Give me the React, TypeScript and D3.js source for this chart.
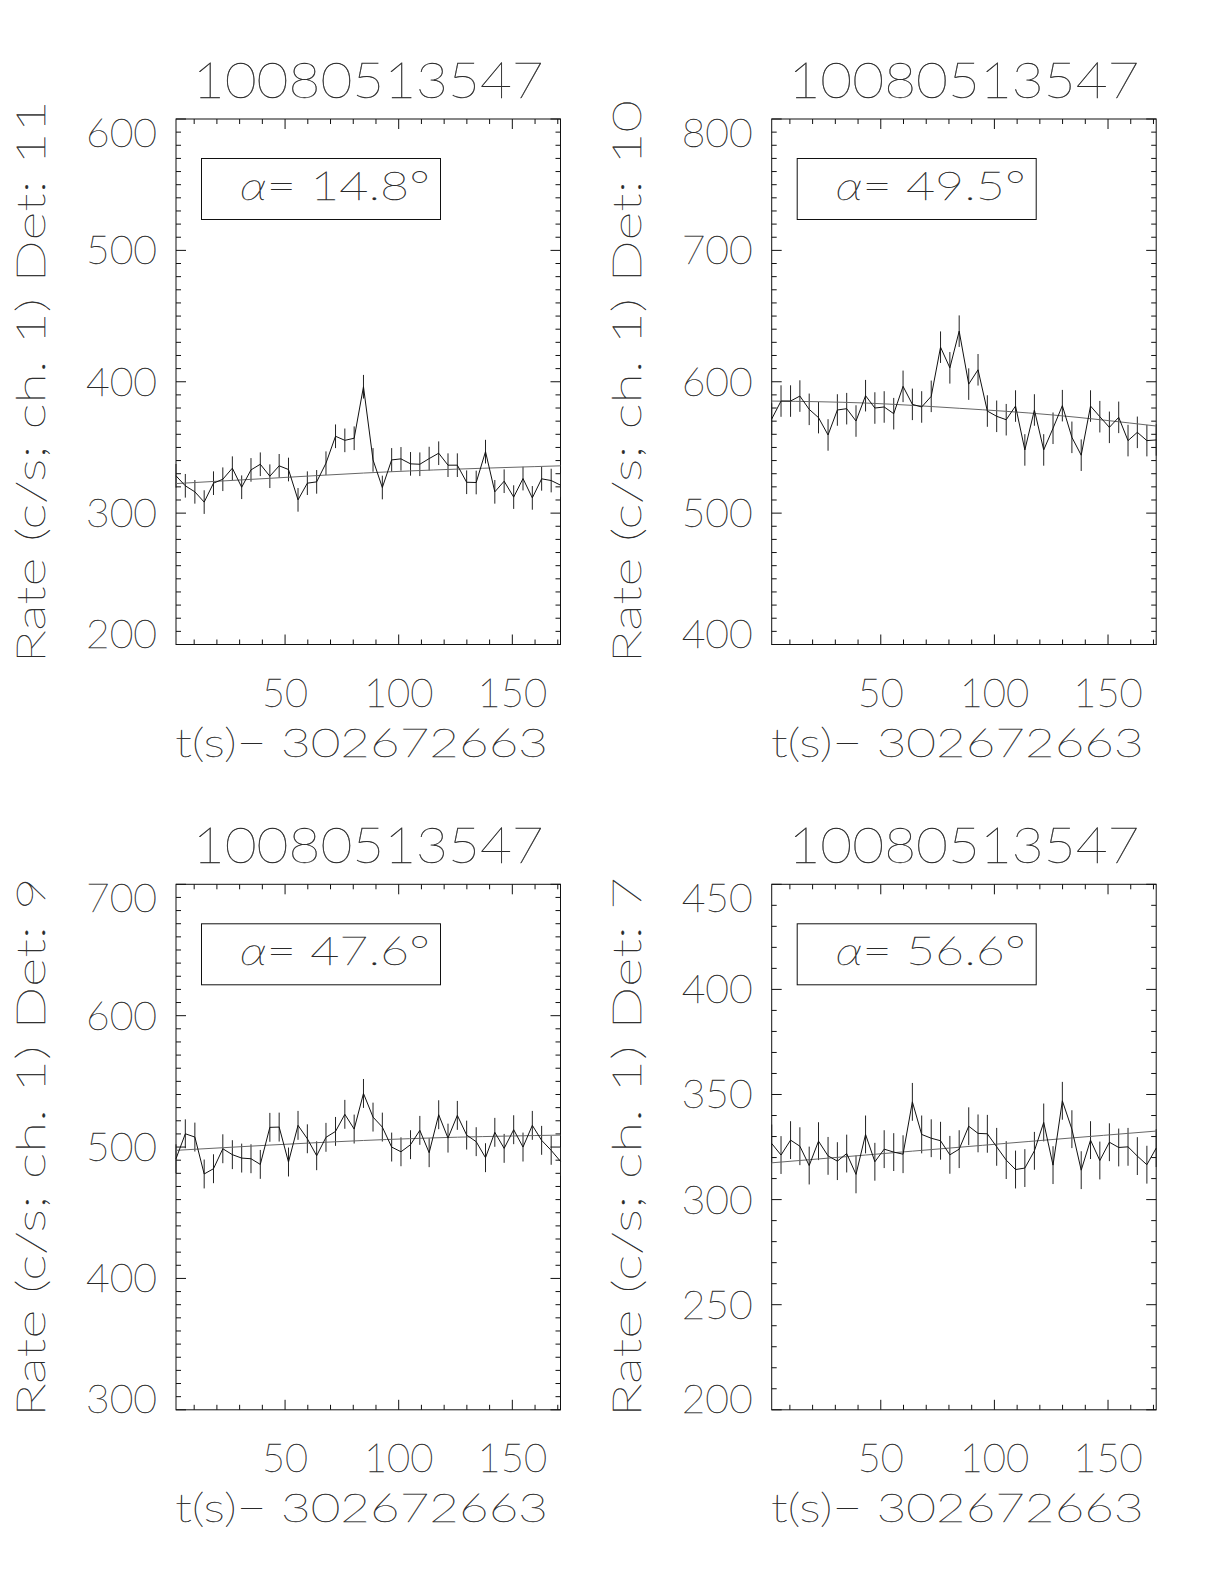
import React, { useEffect, useRef } from 'react';
import * as d3 from 'd3';

// ---------- data ----------
const burstTitle = '10080513547';
const xAxisTitle = 't(s)\u2212 302672663';
const binTimes = [2.0, 6.1, 10.3, 14.4, 18.5, 22.6, 26.8, 30.9, 35.0, 39.1, 43.3, 47.4, 51.5, 55.7, 59.8, 63.9, 68.0, 72.2, 76.3, 80.4, 84.5, 88.7, 92.8, 96.9, 101.0, 105.2, 109.3, 113.4, 117.6, 121.7, 125.8, 129.9, 134.1, 138.2, 142.3, 146.4, 150.6, 154.7, 158.8, 162.9, 167.1, 171.2];
const xDomain = [2.0, 171.2];
const xMajorTicks = [50, 100, 150];
const xMinorTicks = [10, 20, 30, 40, 60, 70, 80, 90, 110, 120, 130, 140, 160, 170];

const det11Rate = [328.4, 320.8, 316.2, 308.4, 322.8, 325.8, 334.2, 319.7, 332.9, 337.2, 328.1, 336.0, 333.2, 310.1, 322.8, 323.8, 338.0, 358.5, 355.4, 357.0, 396.2, 340.5, 319.5, 340.5, 341.3, 337.5, 337.2, 341.5, 345.6, 336.5, 336.5, 323.5, 323.3, 346.8, 316.2, 324.3, 312.2, 326.3, 311.6, 326.1, 324.8, 321.3];
const det10Rate = [571.6, 585.3, 585.3, 589.1, 579.0, 572.7, 559.5, 578.5, 579.5, 570.1, 589.4, 580.0, 580.8, 575.7, 596.5, 582.8, 580.8, 588.9, 626.3, 610.6, 638.5, 598.2, 609.1, 577.7, 573.7, 571.1, 581.5, 548.1, 578.5, 548.1, 564.6, 581.8, 557.7, 544.1, 581.5, 573.4, 565.3, 572.9, 555.2, 561.5, 555.2, 555.7];
const det9Rate = [491.1, 510.1, 507.6, 479.5, 483.5, 498.7, 494.2, 491.6, 491.1, 486.8, 515.0, 515.2, 488.6, 516.5, 506.3, 493.4, 507.4, 511.9, 524.9, 513.7, 540.8, 522.8, 515.2, 500.0, 496.4, 501.8, 512.7, 495.7, 524.6, 506.8, 524.1, 509.1, 504.1, 491.9, 511.2, 499.0, 513.2, 500.0, 516.5, 505.1, 497.5, 489.1];
const det7Rate = [326.7, 321.2, 328.3, 325.4, 316.2, 327.8, 320.8, 318.3, 321.9, 312.0, 331.0, 318.0, 324.0, 322.6, 321.6, 346.5, 331.0, 329.2, 328.0, 321.3, 324.0, 334.9, 331.5, 331.3, 325.1, 318.8, 314.3, 315.0, 323.2, 336.7, 316.4, 347.0, 333.5, 314.0, 328.3, 318.6, 327.3, 324.8, 325.1, 320.7, 316.6, 324.5];

const fitTimes = [2.0, 43.3, 84.5, 125.8, 171.2];
const det11Fit = [322.5, 326.5, 330.5, 333.5, 336.0];
const det10Fit = [585.3, 583.8, 579.8, 574.7, 566.3];
const det9Fit = [497.5, 501.5, 505.0, 507.5, 509.1];
const det7Fit = [317.5, 321.2, 324.9, 328.6, 332.6];

const errHalf = [9, 12, 11, 9];
const detNames = ['11', '10', '9', '7'];
const alphaValues = ['14.8', '49.5', '47.6', '56.6'];
const yDomains = [[200, 600], [400, 800], [300, 700], [200, 450]];
const yMajorTicks = [[200, 300, 400, 500, 600], [400, 500, 600, 700, 800], [300, 400, 500, 600, 700], [200, 250, 300, 350, 400, 450]];
const yMinorStep = [10, 10, 10, 10];
const rates = [det11Rate, det10Rate, det9Rate, det7Rate];
const fits = [det11Fit, det10Fit, det9Fit, det7Fit];

// ---------- layout ----------
const W = 1224, H = 1584;
const colLeft = [176, 771.7];
const rowTop = [119, 884.3];
const plotW = 384.5;
const plotH = 525.5;
const FONT = 'Lato, "DejaVu Sans", sans-serif';
const TXT = '#2a2a2a';

export default function App() {
  const ref = useRef<SVGSVGElement>(null);
  useEffect(() => {
    const svg = d3.select(ref.current);
    svg.selectAll('*').remove();
    svg.append('rect').attr('width', W).attr('height', H).attr('fill', '#fff');

    const styleText = (t: any, size: number) =>
      t.attr('font-family', FONT).attr('font-weight', 100)
        .attr('font-size', size).attr('fill', TXT)
        .attr('stroke', TXT).attr('stroke-width', 0.35)
        .attr('lengthAdjust', 'spacingAndGlyphs');
    const label = (g: any, s: string, size: number) => styleText(g.append('text'), size).text(s);

    for (let p = 0; p < 4; p++) {
      const left = colLeft[p % 2];
      const top = rowTop[Math.floor(p / 2)];
      const g = svg.append('g').attr('transform', `translate(${left},${top})`);
      const x = d3.scaleLinear().domain(xDomain).range([0, plotW]);
      const y = d3.scaleLinear().domain(yDomains[p]).range([plotH, 0]);
      const ink = '#111';

      // ticks
      const ticks = g.append('g').attr('stroke', ink).attr('stroke-width', 1);
      const xt = [...xMajorTicks.map(v => ({ v, L: 10 })), ...xMinorTicks.map(v => ({ v, L: 5 }))];
      xt.forEach(({ v, L }) => {
        ticks.append('line').attr('x1', x(v)).attr('x2', x(v)).attr('y1', plotH).attr('y2', plotH - L);
        ticks.append('line').attr('x1', x(v)).attr('x2', x(v)).attr('y1', 0).attr('y2', L);
      });
      const [y0, y1] = yDomains[p];
      const majors = yMajorTicks[p];
      const minors = d3.range(y0, y1 + 0.01, yMinorStep[p]).filter(v => !majors.includes(v));
      const yt = [...majors.map(v => ({ v, L: 10 })), ...minors.map(v => ({ v, L: 5 }))];
      yt.forEach(({ v, L }) => {
        ticks.append('line').attr('x1', 0).attr('x2', L).attr('y1', y(v)).attr('y2', y(v));
        ticks.append('line').attr('x1', plotW).attr('x2', plotW - L).attr('y1', y(v)).attr('y2', y(v));
      });

      // frame
      g.append('rect').attr('x', 0).attr('y', 0).attr('width', plotW).attr('height', plotH)
        .attr('fill', 'none').attr('stroke', ink).attr('stroke-width', 1);

      // error bars
      const data = binTimes.map((t, i) => ({ t, v: rates[p][i] }));
      g.append('g').attr('stroke', '#222').attr('stroke-width', 1)
        .selectAll('line').data(data).join('line')
        .attr('x1', d => x(d.t)).attr('x2', d => x(d.t))
        .attr('y1', d => y(d.v - errHalf[p])).attr('y2', d => y(d.v + errHalf[p]));

      // fit
      const fitData = fitTimes.map((t, i) => ({ t, v: fits[p][i] }));
      g.append('path').datum(fitData)
        .attr('d', d3.line<any>().x(d => x(d.t)).y(d => y(d.v)).curve(d3.curveNatural))
        .attr('fill', 'none').attr('stroke', '#666').attr('stroke-width', 1);

      // data line
      g.append('path').datum(data)
        .attr('d', d3.line<any>().x(d => x(d.t)).y(d => y(d.v)))
        .attr('fill', 'none').attr('stroke', '#111').attr('stroke-width', 1);

      // alpha box
      g.append('rect').attr('x', 25.5).attr('y', 39.5).attr('width', 239).attr('height', 61)
        .attr('fill', '#fff').attr('stroke', ink).attr('stroke-width', 1);
      const at = styleText(g.append('text'), 39).attr('x', 64).attr('y', 81).attr('textLength', 190);
      at.append('tspan').attr('font-style', 'italic').text('\u03b1');
      at.append('tspan').text(`= ${alphaValues[p]}\u00b0`);

      // title
      label(g, burstTitle, 49).attr('x', plotW / 2).attr('y', -21).attr('text-anchor', 'middle')
        .attr('textLength', 351);

      // y tick labels
      majors.forEach((v, i) => {
        let by = y(v) + 14;
        if (i === majors.length - 1) by = 28;
        if (i === 0) by = plotH + 3;
        const s = String(v);
        label(g, s, 39).attr('x', -18 - 24 * s.length).attr('y', by)
          .attr('textLength', 24 * s.length - 1);
      });

      // x tick labels
      xMajorTicks.forEach(v => {
        const s = String(v);
        label(g, s, 39).attr('x', x(v)).attr('y', plotH + 62.5).attr('text-anchor', 'middle')
          .attr('textLength', 23.5 * s.length - 1);
      });

      // x title
      label(g, xAxisTitle, 39).attr('x', -1).attr('y', plotH + 112.5).attr('textLength', 373);

      // y title
      const ytxt = `Rate (c/s; ch. 1) Det: ${detNames[p]}`;
      label(g, ytxt, 39).attr('transform', `translate(${-131},${plotH / 2}) rotate(-90)`)
        .attr('text-anchor', 'middle')
        .attr('textLength', ytxt.length === 25 ? 563 : 540);
    }
  }, []);
  return (
    <svg ref={ref} width={W} height={H} style={{ position: 'absolute', left: 0, top: 0 }} />
  );
}
